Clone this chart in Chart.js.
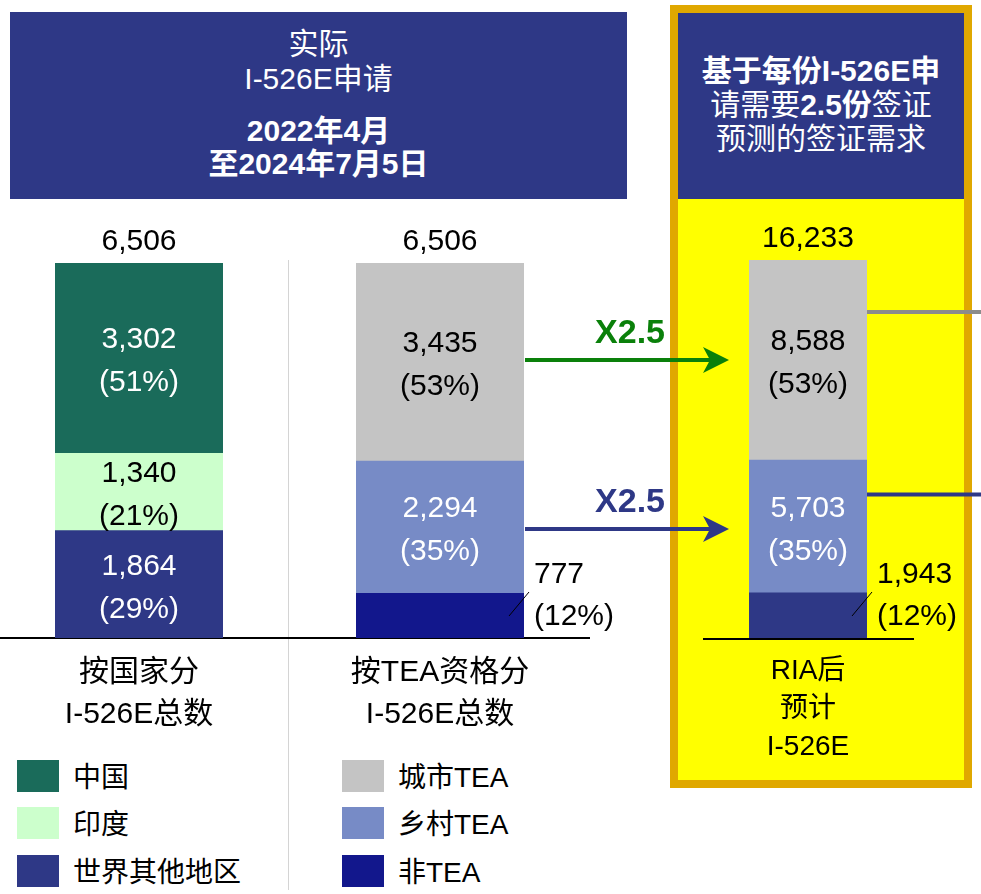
<!DOCTYPE html>
<html>
<head>
<meta charset="utf-8">
<script src="https://cdn.jsdelivr.net/npm/chart.js@4"></script>
<style>
body { margin: 0; background: #fff; }
#page { position: relative; width: 981px; height: 894px; overflow: hidden;
        font-family: "Liberation Sans", "Noto Sans CJK SC", sans-serif; }
.box { position: absolute; }
.line { position: absolute; left: 0; right: 0; height: 40px; line-height: 40px; text-align: center; white-space: nowrap; }
canvas { position: absolute; left: 0; top: 0; }
.sw { position: absolute; width: 42px; height: 32px; }
.lt { position: absolute; font-size: 28px; height: 36px; line-height: 36px; white-space: nowrap; color: #000; }
b { font-weight: bold; }
</style>
</head>
<body>
<div id="page">
  <!-- left header -->
  <div class="box" style="left:10px;top:12px;width:617px;height:187px;background:#2E3886;color:#fff;">
    <div class="line" style="top:12px;font-size:30px;">实际</div>
    <div class="line" style="top:47px;font-size:30px;">I-526E申请</div>
    <div class="line" style="top:99px;font-size:30px;font-weight:bold;">2022年4月</div>
    <div class="line" style="top:132px;font-size:30px;font-weight:bold;">至2024年7月5日</div>
  </div>
  <!-- right box -->
  <div class="box" style="left:670px;top:5px;width:286px;height:767px;border:8px solid #E0A800;background:#FFFF00;"></div>
  <div class="box" style="left:678px;top:13px;width:286px;height:186px;background:#2E3886;color:#fff;">
    <div class="line" style="top:38px;font-size:30px;font-weight:bold;">基于每份I-526E申</div>
    <div class="line" style="top:72px;font-size:30px;">请需要<b>2.5份</b>签证</div>
    <div class="line" style="top:106px;font-size:30px;">预测的签证需求</div>
  </div>
  <!-- separator and baselines -->
  <div class="box" style="left:288px;top:260px;width:1px;height:630px;background:#D4D4D4;"></div>
  <div class="box" style="left:0;top:637px;width:590px;height:2px;background:#000;"></div>
  <div class="box" style="left:703px;top:638px;width:211px;height:2px;background:#000;"></div>
  <div id="legend"></div>
  <canvas id="c1" width="981" height="894"></canvas>
  <canvas id="c2" width="981" height="894"></canvas>
  <canvas id="c3" width="981" height="894"></canvas>
</div>
<script>
// data
const countryNames = ['中国', '印度', '世界其他地区'];
const countryValues = [3302, 1340, 1864];
const countryPct = [51, 21, 29];

const teaNames = ['城市TEA', '乡村TEA', '非TEA'];
const teaValues = [3435, 2294, 777];
const teaPct = [53, 35, 12];

const riaValues = [8588, 5703, 1943];
const riaPct = [53, 35, 12];

const barTotals = [6506, 6506, 16233];
const barCategories = [['按国家分', 'I-526E总数'], ['按TEA资格分', 'I-526E总数'], ['RIA后', '预计', 'I-526E']];
const visaFactor = 2.5;

// styles
const FONT = '"Liberation Sans", "Noto Sans CJK SC", sans-serif';
const countryColors = ['#1A6B5A', '#CCFFCC', '#2E3886'];
const countryText = ['#fff', '#000', '#fff'];
const teaColors = ['#C4C4C4', '#778BC6', '#12178C'];
const riaColors = ['#C4C4C4', '#778BC6', '#2E3886'];
const teaText = ['#000', '#fff', '#000'];
const arrowColors = ['#0A800A', '#2E3886'];
const connectorColors = ['#8C8C8C', '#2E3886'];

const fmt = v => v.toLocaleString('en-US');

// legend
function legend(names, colors, left) {
  const el = document.getElementById('legend');
  const tops = [760, 807, 855];
  names.forEach((n, i) => {
    el.insertAdjacentHTML('beforeend',
      `<div class="sw" style="left:${left}px;top:${tops[i]}px;background:${colors[i]}"></div>` +
      `<div class="lt" style="left:${left + 56}px;top:${tops[i]}px">${n}</div>`);
  });
}
legend(countryNames, countryColors, 17);
legend(teaNames, teaColors, 342);

const segLabels = {
  id: 'segLabels',
  afterDatasetsDraw(chart, args, opts) {
    const ctx = chart.ctx;
    ctx.save();
    ctx.textBaseline = 'middle';
    let top = Infinity, base = 0, cx = 0, right = 0;
    chart.data.datasets.forEach((ds, i) => {
      const bar = chart.getDatasetMeta(i).data[0];
      const h = bar.base - bar.y;
      top = Math.min(top, bar.y); base = Math.max(base, bar.base);
      cx = bar.x; right = bar.x + bar.width / 2;
      const l1 = fmt(ds.data[0]), l2 = '(' + ds.pct + '%)';
      ctx.font = '30px ' + FONT;
      if (h > 60) {
        const mid = (bar.y + bar.base) / 2;
        ctx.fillStyle = ds.textColor;
        ctx.textAlign = 'center';
        ctx.fillText(l1, bar.x, mid - 18);
        ctx.fillText(l2, bar.x, mid + 25);
      } else {
        ctx.strokeStyle = '#000';
        ctx.lineWidth = 1;
        ctx.beginPath();
        ctx.moveTo(right - 15, bar.base - 22);
        ctx.lineTo(right + 5, bar.base - 46);
        ctx.stroke();
        ctx.fillStyle = '#000';
        ctx.textAlign = 'left';
        ctx.fillText(l1, right + 10, bar.base - 63);
        ctx.fillText(l2, right + 10, bar.base - 21);
      }
    });
    ctx.fillStyle = '#000';
    ctx.textAlign = 'center';
    ctx.font = '30px ' + FONT;
    ctx.fillText(fmt(opts.total), cx, top - 21);
    ctx.font = opts.catFont + 'px ' + FONT;
    chart.data.labels[0].forEach((t, k) => {
      ctx.fillText(t, cx, base + opts.catFirst + k * opts.catGap);
    });
    ctx.restore();
  }
};

function stackChart(id, idx, names, values, pct, colors, textColors, pad, cat) {
  const datasets = names.map((n, i) => ({
    label: n,
    data: [values[i]],
    pct: pct[i],
    textColor: textColors[i],
    backgroundColor: colors[i],
    barPercentage: 1,
    categoryPercentage: 1
  })).reverse();
  return new Chart(document.getElementById(id), {
    type: 'bar',
    data: { labels: [barCategories[idx]], datasets },
    options: {
      responsive: false,
      animation: false,
      layout: { padding: pad },
      plugins: {
        legend: { display: false },
        tooltip: { enabled: false },
        segLabels: Object.assign({ total: barTotals[idx] }, cat)
      },
      scales: {
        x: { display: false, stacked: true },
        y: { display: false, stacked: true, min: 0, max: barTotals[idx] }
      }
    },
    plugins: [segLabels]
  });
}

const chart1 = stackChart('c1', 0, countryNames, countryValues, countryPct, countryColors, countryText,
  { left: 55, right: 758, top: 263, bottom: 256 }, { catFont: 30, catFirst: 35, catGap: 42 });
const chart2 = stackChart('c2', 1, teaNames, teaValues, teaPct, teaColors, teaText,
  { left: 356, right: 457, top: 263, bottom: 256 }, { catFont: 30, catFirst: 35, catGap: 42 });

// arrows from the TEA bar to the projection bar, and connectors leaving to the right
const arrows = {
  id: 'arrows',
  afterDatasetsDraw(chart) {
    const ctx = chart.ctx;
    const n = chart.data.datasets.length;
    const startX = chart2.chartArea.right + 1;
    ctx.save();
    [0, 1].forEach(k => {
      const bar = chart.getDatasetMeta(n - 1 - k).data[0];
      const left = bar.x - bar.width / 2, rightEdge = bar.x + bar.width / 2;
      const h = bar.base - bar.y;
      const y = Math.round((bar.y + bar.base) / 2) + k * 3;
      const tip = left - 20;
      ctx.strokeStyle = ctx.fillStyle = arrowColors[k];
      ctx.lineWidth = 4;
      ctx.beginPath(); ctx.moveTo(startX, y); ctx.lineTo(tip - 15, y); ctx.stroke();
      ctx.beginPath();
      ctx.moveTo(tip, y); ctx.lineTo(tip - 26, y - 13); ctx.lineTo(tip - 19, y);
      ctx.lineTo(tip - 26, y + 13); ctx.closePath(); ctx.fill();
      ctx.font = 'bold 34px ' + FONT;
      ctx.textAlign = 'right'; ctx.textBaseline = 'middle';
      ctx.fillText('X' + visaFactor, tip - 64, y - 26);
      // connector
      const cy = bar.y + h * 0.26;
      ctx.strokeStyle = connectorColors[k];
      ctx.lineWidth = 4;
      ctx.beginPath(); ctx.moveTo(rightEdge, cy); ctx.lineTo(chart.width, cy); ctx.stroke();
    });
    ctx.restore();
  }
};

const chart3 = stackChart('c3', 2, teaNames, riaValues, riaPct, riaColors, teaText,
  { left: 749, right: 114, top: 260, bottom: 256 }, { catFont: 28, catFirst: 33, catGap: 38 });
chart3.config.plugins.push(arrows);
chart3.update();
</script>
</body>
</html>
